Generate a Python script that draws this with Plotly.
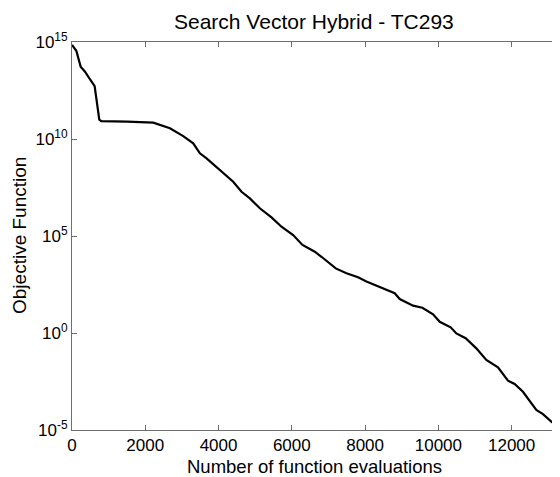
import plotly.graph_objects as go

evals = [0, 118, 236, 355, 490, 618, 745, 800, 1500, 2218, 2673, 3036, 3309, 3491, 3673,
         4036, 4400, 4627, 4855, 5127, 5445, 5718, 6036, 6291, 6627, 6809, 7200, 7491,
         7808, 8036, 8491, 8809, 8945, 9309, 9564, 9855, 10036, 10336, 10491, 10745,
         11036, 11309, 11627, 11900, 12082, 12309, 12673, 12855, 13082, 13309, 13420]
log_obj = [14.85, 14.55, 13.73, 13.47, 13.08, 12.73, 11.0, 10.92, 10.9, 10.84, 10.55, 10.15,
           9.78, 9.26, 9.0, 8.4, 7.8, 7.28, 6.94, 6.43, 5.96, 5.48, 5.05, 4.54, 4.19, 3.93,
           3.33, 3.08, 2.87, 2.65, 2.30, 2.05, 1.75, 1.41, 1.30, 0.96, 0.58, 0.29, -0.02,
           -0.27, -0.79, -1.39, -1.77, -2.46, -2.63, -3.03, -3.97, -4.18, -4.57, -4.88, -5.0]
objective = [10 ** v for v in log_obj]

x_ticks = [0, 2000, 4000, 6000, 8000, 10000, 12000]
x_ticktext = ["0", "2000", "4000", "6000", "8000", "10000", "12000"]
y_ticks = [1e-5, 1e0, 1e5, 1e10, 1e15]
y_ticktext = ["10<sup>-5</sup>", "10<sup>0</sup>", "10<sup>5</sup>",
              "10<sup>10</sup>", "10<sup>15</sup>"]

FONT = "Liberation Sans, Arial, sans-serif"
AX = "#6e6e6e"
OFF = 8  # default page body margin
W, H = 560 - OFF, 477 - OFF
L, R, T, B = 72 - OFF, 0, 42 - OFF, 477 - 430

fig = go.Figure()
fig.add_trace(go.Scatter(x=evals, y=objective, mode="lines",
                         line=dict(color="black", width=2.2), showlegend=False))
fig.add_trace(go.Scatter(x=evals, y=objective, mode="lines", yaxis="y2",
                         line=dict(color="rgba(0,0,0,0)", width=0), showlegend=False,
                         hoverinfo="skip"))

def px_x(p):
    return (p - OFF - L) / (W - L - R)

def px_y(p):
    return (H - B - (p - OFF)) / (H - T - B)

fig.update_layout(
    width=W, height=H,
    margin=dict(l=L, r=R, t=T, b=B),
    paper_bgcolor="white", plot_bgcolor="white",
    font=dict(family=FONT, size=17, color="black"),
    xaxis=dict(range=[0, 13320], tickvals=x_ticks, ticktext=x_ticktext, ticks="inside",
               ticklen=5, tickcolor=AX, showline=True, linecolor=AX, linewidth=1,
               mirror="ticks", showgrid=False, zeroline=False, automargin=False,
               tickfont=dict(size=17)),
    yaxis=dict(type="log", range=[-5, 15], tickvals=y_ticks, ticktext=y_ticktext,
               ticks="inside", ticklen=5, tickcolor=AX, showline=True, linecolor=AX,
               linewidth=1, showgrid=False, zeroline=False, automargin=False,
               tickfont=dict(size=17)),
    yaxis2=dict(type="log", range=[-5, 15], tickvals=y_ticks, overlaying="y", side="right",
                ticks="inside", ticklen=5, tickcolor=AX, showticklabels=False,
                showline=False, showgrid=False, zeroline=False, automargin=False),
    annotations=[
        dict(text="Search Vector Hybrid - TC293", xref="paper", yref="paper",
             x=px_x(314), y=px_y(22), xanchor="center", yanchor="middle",
             showarrow=False, font=dict(size=21)),
        dict(text="Number of function evaluations", xref="paper", yref="paper",
             x=px_x(314.5), y=px_y(466), xanchor="center", yanchor="middle",
             showarrow=False, font=dict(size=18.5)),
        dict(text="Objective Function", xref="paper", yref="paper", textangle=-90,
             x=px_x(19.5), y=px_y(235.5), xanchor="center", yanchor="middle",
             showarrow=False, font=dict(size=19)),
    ],
)

fig.write_html("out.html")
